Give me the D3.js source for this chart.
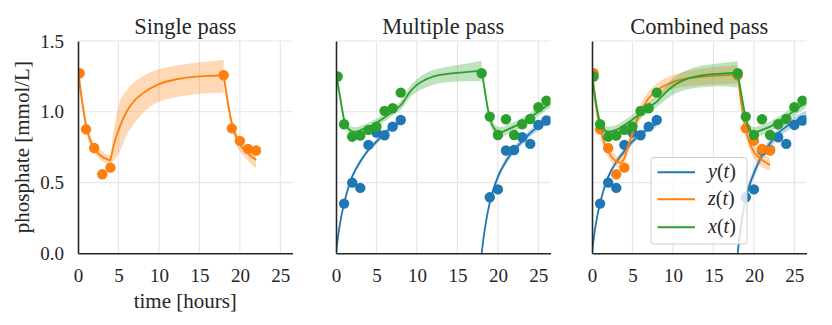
<!DOCTYPE html>
<html>
<head>
<meta charset="utf-8">
<script src="https://cdn.jsdelivr.net/npm/d3@7"></script>
<style>
body { margin:0; background:#fff; }
</style>
</head>
<body>
<svg id="graph" width="832" height="325"></svg>
<script>
// ---- data ----
var titles = ["Single pass", "Multiple pass", "Combined pass"];
var xTicks = [0, 5, 10, 15, 20, 25];
var yTicks = [0, 0.5, 1.0, 1.5];
var legendLabels = ["y", "z", "x"];

// observations
var zObsT = [0.2, 1, 2, 3, 4, 18, 19, 20, 21, 22];
var zObs  = [1.272, 0.876, 0.744, 0.558, 0.605, 1.258, 0.883, 0.794, 0.737, 0.726];
var xObsT = [0.2, 1, 2, 3, 4, 5, 6, 7, 8, 18, 19, 20, 21, 22, 23, 24, 25, 26];
var xObs  = [1.249, 0.912, 0.824, 0.832, 0.872, 0.895, 1.006, 1.025, 1.135,
             1.272, 0.966, 0.836, 0.947, 0.836, 0.912, 0.949, 1.032, 1.079];
var yObsT = [1, 2, 3, 4, 5, 6, 7, 8, 19, 20, 21, 22, 23, 24, 25, 26];
var yObs  = [0.351, 0.499, 0.462, 0.766, 0.853, 0.834, 0.895, 0.942,
             0.396, 0.452, 0.726, 0.730, 0.820, 0.773, 0.907, 0.938];

// fitted curves: [t, mean, low, high]
var zSingleA = [[0,1.31,1.22,1.39],[0.25,1.18,1.11,1.25],[0.5,1.08,1.02,1.14],[1,0.90,0.86,0.95],
  [1.5,0.80,0.76,0.84],[2,0.74,0.71,0.78],[2.5,0.705,0.675,0.745],[3,0.683,0.65,0.72],
  [3.5,0.667,0.635,0.70],[4,0.655,0.625,0.69]];
var zSingleB = [[4,0.655,0.625,0.69],[4.5,0.78,0.66,0.90],[5,0.87,0.70,1.04],[6,1.00,0.83,1.15],
  [7,1.08,0.92,1.21],[8,1.13,0.99,1.25],[10,1.195,1.07,1.30],[12,1.228,1.10,1.325],
  [14,1.245,1.12,1.343],[16,1.253,1.13,1.355],[18,1.258,1.135,1.365]];
var zSingleC = [[18,1.258,1.22,1.29],[18.25,1.16,1.11,1.20],[18.5,1.07,1.02,1.11],[19,0.92,0.87,0.96],
  [19.5,0.83,0.78,0.87],[20,0.77,0.72,0.81],[20.5,0.735,0.685,0.775],[21,0.705,0.655,0.745],
  [21.5,0.68,0.625,0.72],[22,0.66,0.60,0.70]];

var xMultiA = [[0,1.275,1.22,1.33],[0.25,1.19,1.14,1.24],[0.5,1.107,1.06,1.15],[1,0.945,0.91,0.98],
  [1.5,0.883,0.85,0.915],[2,0.862,0.83,0.895],[2.5,0.86,0.828,0.892],[3,0.87,0.84,0.90],
  [4,0.893,0.865,0.922],[5,0.922,0.895,0.95],[6,0.96,0.932,0.988],[7,1.0,0.972,1.028],[8,1.045,1.015,1.075]];
var xMultiB = [[8,1.045,1.015,1.075],[8.5,1.085,1.05,1.12],[9,1.13,1.09,1.17],[10,1.19,1.14,1.23],
  [11,1.225,1.17,1.27],[12,1.248,1.19,1.295],[14,1.27,1.21,1.32],[16,1.28,1.215,1.34],[18,1.29,1.215,1.36]];
var xMultiC = [[18,1.29,1.25,1.32],[18.25,1.2,1.16,1.24],[18.5,1.107,1.07,1.145],[19,0.955,0.915,0.99],
  [19.5,0.885,0.845,0.92],[20,0.86,0.82,0.895],[20.5,0.858,0.82,0.893],[21,0.87,0.835,0.903],
  [22,0.895,0.862,0.927],[23,0.926,0.895,0.957],[24,0.961,0.93,0.992],[25,1.0,0.97,1.03],
  [26,1.04,1.01,1.07],[26.5,1.06,1.03,1.09]];
var yMultiA = [[0,0,0,0.01],[0.25,0.118,0.105,0.13],[0.5,0.212,0.198,0.226],[1,0.353,0.338,0.368],
  [1.5,0.46,0.444,0.476],[2,0.542,0.525,0.559],[3,0.648,0.63,0.666],[4,0.73,0.712,0.748],
  [5,0.789,0.77,0.808],[6,0.848,0.828,0.868],[7,0.895,0.875,0.915],[8,0.93,0.91,0.95]];
var yMultiB = [[18,0,0,0.01],[18.25,0.118,0.1,0.135],[18.5,0.212,0.19,0.232],[19,0.36,0.335,0.383],
  [19.5,0.46,0.435,0.485],[20,0.54,0.515,0.565],[21,0.65,0.625,0.675],[22,0.73,0.705,0.755],
  [23,0.79,0.765,0.815],[24,0.85,0.825,0.875],[25,0.895,0.87,0.92],[26,0.932,0.905,0.958],
  [26.5,0.948,0.92,0.975]];

var yCombA = [[0,0,0,0.01],[0.25,0.12,0.105,0.135],[0.5,0.215,0.198,0.23],[1,0.355,0.338,0.372],
  [1.5,0.46,0.442,0.478],[2,0.54,0.52,0.56],[3,0.645,0.625,0.665],[4,0.722,0.70,0.744],
  [5,0.79,0.768,0.812],[6,0.842,0.82,0.864],[7,0.882,0.86,0.904],[8,0.915,0.892,0.938]];
var yCombB = [[18,0,0,0.01],[18.25,0.13,0.105,0.155],[18.5,0.23,0.2,0.26],[19,0.39,0.355,0.425],
  [19.5,0.49,0.455,0.525],[20,0.565,0.53,0.6],[21,0.69,0.655,0.725],[22,0.777,0.742,0.812],
  [23,0.848,0.813,0.883],[24,0.895,0.86,0.93],[25,0.93,0.895,0.965],[26,0.96,0.925,0.995],
  [26.5,0.972,0.937,1.007]];
var zCombA = [[0,1.30,1.22,1.375],[0.25,1.16,1.09,1.23],[0.5,1.04,0.98,1.10],[1,0.885,0.84,0.93],
  [1.5,0.78,0.74,0.82],[2,0.72,0.68,0.76],[2.5,0.675,0.635,0.715],[3,0.65,0.61,0.69],
  [3.5,0.64,0.60,0.68],[4,0.675,0.635,0.72],[4.5,0.76,0.71,0.81],[5,0.85,0.80,0.90],
  [6,1.0,0.95,1.05],[7,1.095,1.045,1.145],[8,1.15,1.10,1.20],[10,1.21,1.16,1.26],
  [12,1.237,1.18,1.29],[14,1.25,1.19,1.31],[16,1.258,1.195,1.32],[18,1.263,1.20,1.33]];
var zCombB = [[18,1.263,1.22,1.30],[18.25,1.14,1.09,1.19],[18.5,1.036,0.98,1.09],[19,0.872,0.82,0.92],
  [19.5,0.777,0.73,0.83],[20,0.718,0.67,0.77],[21,0.66,0.61,0.71],[22,0.624,0.585,0.67]];
var xCombA = [[0,1.25,1.2,1.30],[0.25,1.15,1.1,1.2],[0.5,1.06,1.02,1.10],[1,0.92,0.885,0.955],
  [1.5,0.872,0.838,0.906],[2,0.86,0.826,0.894],[3,0.872,0.838,0.906],[4,0.905,0.87,0.94],
  [5,0.945,0.91,0.98],[6,0.988,0.952,1.024],[7,1.03,0.994,1.066],[8,1.07,1.032,1.108]];
var xCombB = [[8,1.07,1.032,1.108],[9,1.13,1.08,1.175],[10,1.18,1.12,1.235],[12,1.237,1.16,1.30],
  [14,1.26,1.175,1.33],[16,1.27,1.18,1.345],[18,1.277,1.17,1.357]];
var xCombC = [[18,1.277,1.24,1.31],[18.25,1.19,1.15,1.23],[18.5,1.107,1.065,1.15],[19,0.954,0.91,0.995],
  [19.5,0.872,0.83,0.91],[20,0.853,0.815,0.89],[21,0.872,0.835,0.908],[22,0.895,0.86,0.93],
  [23,0.93,0.895,0.965],[24,0.966,0.93,1.0],[25,1.008,0.97,1.045],[26,1.048,1.01,1.085],
  [26.5,1.068,1.03,1.105]];

var colors = {y:"#1f77b4", z:"#ff7f0e", x:"#2ca02c"};

// what goes into each panel (drawn in this order: y, z, x)
var panels = [
  {series:[{k:"z", segs:[zSingleA, zSingleB, zSingleC], t:zObsT, v:zObs}]},
  {series:[{k:"y", segs:[yMultiA, yMultiB], t:yObsT, v:yObs},
           {k:"x", segs:[xMultiA, xMultiB, xMultiC], t:xObsT, v:xObs}]},
  {series:[{k:"y", segs:[yCombA, yCombB], t:yObsT, v:yObs},
           {k:"z", segs:[zCombA, zCombB], t:zObsT, v:zObs},
           {k:"x", segs:[xCombA, xCombB, xCombC], t:xObsT, v:xObs}]}
];

// ---- layout ----
var panelLeft = [78, 336, 592];
var panelW = 214.5;
var plotTop = 41, plotBottom = 253.3;
var serif = "'Liberation Serif'";
var ink = "#262626";

var svg = d3.select("#graph");

var drawPanel = function(p, i)
{
  var x0 = panelLeft[i];
  var xScale = d3.scaleLinear().domain([0, 26.5]).range([x0, x0 + panelW]);
  var yScale = d3.scaleLinear().domain([0, 1.5]).range([plotBottom, plotTop]);

  var g = svg.append("g");

  // grid
  g.selectAll(".vgrid").data(xTicks.slice(1)).enter().append("line")
    .attr("x1", function(d){return xScale(d)}).attr("x2", function(d){return xScale(d)})
    .attr("y1", plotTop).attr("y2", plotBottom)
    .attr("stroke", "#e6e6e6").attr("stroke-width", 1.2);
  g.selectAll(".hgrid").data(yTicks.slice(1)).enter().append("line")
    .attr("x1", x0).attr("x2", x0 + panelW)
    .attr("y1", function(d){return yScale(d)}).attr("y2", function(d){return yScale(d)})
    .attr("stroke", "#e6e6e6").attr("stroke-width", 1.2);

  // title
  svg.append("text")
    .text(titles[i])
    .attr("x", x0 + panelW / 2).attr("y", 34)
    .attr("text-anchor", "middle")
    .attr("fill", ink)
    .style("font-family", serif)
    .style("font-size", "22.5px");

  g.append("clipPath").attr("id", "clip" + i)
    .append("rect").attr("x", x0).attr("y", plotTop)
    .attr("width", panelW).attr("height", plotBottom - plotTop);

  var plot = g.append("g").attr("clip-path", "url(#clip" + i + ")");

  var area = d3.area()
    .x(function(d){return xScale(d[0])})
    .y0(function(d){return yScale(d[2])})
    .y1(function(d){return yScale(d[3])})
    .curve(d3.curveMonotoneX);
  var line = d3.line()
    .x(function(d){return xScale(d[0])})
    .y(function(d){return yScale(d[1])})
    .curve(d3.curveMonotoneX);

  p.series.forEach(function(s)
  {
    s.segs.forEach(function(seg)
    {
      plot.append("path").datum(seg)
        .attr("d", area)
        .attr("fill", colors[s.k]).attr("fill-opacity", 0.3);
    });
    s.segs.forEach(function(seg)
    {
      plot.append("path").datum(seg)
        .attr("d", line)
        .attr("fill", "none")
        .attr("stroke", colors[s.k]).attr("stroke-width", 1.8);
    });
    plot.selectAll(null).data(s.t).enter().append("circle")
      .attr("cx", function(d){return xScale(d)})
      .attr("cy", function(d, j){return yScale(s.v[j])})
      .attr("r", 5.2)
      .attr("fill", colors[s.k]);
  });

  // axes
  var xAxis = d3.axisBottom(xScale).tickValues(xTicks).tickSize(0).tickPadding(15)
    .tickFormat(d3.format("d"));
  var yAxis = d3.axisLeft(yScale).tickValues(yTicks).tickSize(0).tickPadding(14)
    .tickFormat(i == 0 ? d3.format(".1f") : function(){return ""});

  var ax = g.append("g").attr("transform", "translate(0," + plotBottom + ")").call(xAxis);
  var ay = g.append("g").attr("transform", "translate(" + x0 + ",0)").call(yAxis);
  [ax, ay].forEach(function(a)
  {
    a.attr("font-family", null).attr("font-size", null);
    a.select(".domain").attr("stroke", ink).attr("stroke-width", 1.6);
    a.selectAll("text")
      .attr("fill", ink)
      .style("font-family", serif)
      .style("font-size", "19px");
  });
}

panels.forEach(drawPanel);

// axis labels
svg.append("text")
  .text("time [hours]")
  .attr("text-anchor", "middle")
  .attr("x", panelLeft[0] + panelW / 2).attr("y", 308)
  .attr("fill", ink)
  .style("font-family", serif)
  .style("font-size", "21px");

svg.append("text")
  .text("phosphate [mmol/L]")
  .attr("text-anchor", "middle")
  .attr("transform", "translate(29," + ((plotTop + plotBottom) / 2) + ") rotate(-90)")
  .attr("fill", ink)
  .style("font-family", serif)
  .style("font-size", "21px");

// legend
var legend = svg.append("g");
legend.append("rect")
  .attr("x", 651).attr("y", 157.5).attr("width", 96).attr("height", 86.5)
  .attr("rx", 3).attr("ry", 3)
  .attr("fill", "#fff").attr("fill-opacity", 0.8)
  .attr("stroke", "#cccccc").attr("stroke-width", 1);

var rowY = [172.3, 199.3, 227.3];
legendLabels.forEach(function(k, j)
{
  legend.append("line")
    .attr("x1", 657.5).attr("x2", 695)
    .attr("y1", rowY[j]).attr("y2", rowY[j])
    .attr("stroke", colors[k]).attr("stroke-width", 2);
  var t = legend.append("text")
    .attr("x", 708).attr("y", rowY[j] + 6)
    .attr("fill", ink)
    .style("font-family", serif)
    .style("font-size", "20px");
  t.append("tspan").text(k).style("font-style", "italic");
  t.append("tspan").text("(");
  t.append("tspan").text("t").style("font-style", "italic");
  t.append("tspan").text(")");
});
</script>
</body>
</html>
